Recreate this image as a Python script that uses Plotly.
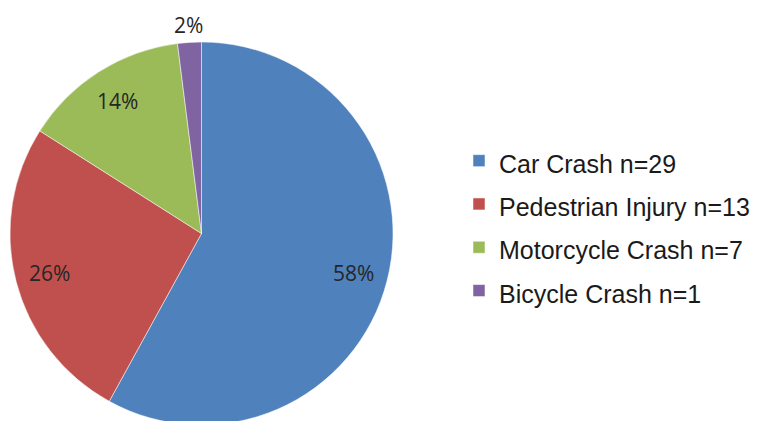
import math
import plotly.graph_objects as go

categories = ["Car Crash", "Pedestrian Injury", "Motorcycle Crash", "Bicycle Crash"]
counts = [29, 13, 7, 1]
colors = ["#4F81BD", "#C0504D", "#9BBB59", "#8064A2"]
label_radius = [0.82, 0.82, 0.82, 1.09]  # fraction of pie radius for % labels

W, H = 761, 425
# pie geometry (pixels)
cx_px = 201.5
cy_px = 233.5
R = 191.5

legend_labels = [f'<span style="font-size:25px">{c} n={n}</span>' for c, n in zip(categories, counts)]

fig = go.Figure()
fig.add_trace(go.Pie(
    labels=legend_labels,
    values=counts,
    marker=dict(colors=colors, line=dict(color="white", width=0.5)),
    sort=False,
    direction="clockwise",
    rotation=0,
    textinfo="none",
    hoverinfo="label+percent",
    domain=dict(
        x=[(cx_px - R) / W, (cx_px + R) / W],
        y=[max(0, 1 - (cy_px + R) / H), 1 - (cy_px - R) / H],
    ),
))

total = sum(counts)
cum = 0
annotations = []
for n, k in zip(counts, label_radius):
    mid = (cum + n / 2) / total * 2 * math.pi
    cum += n
    px = cx_px + k * R * math.sin(mid)
    py = cy_px - k * R * math.cos(mid)
    annotations.append(dict(
        x=px / W, y=1 - py / H, xref="paper", yref="paper",
        text=f"{round(100 * n / total)}%", showarrow=False,
        font=dict(family="Open Sans, Liberation Sans, Arial", size=21, color="#262626"),
        xanchor="center", yanchor="middle",
    ))

fig.update_layout(
    width=W, height=H,
    margin=dict(l=0, r=0, t=0, b=0, autoexpand=False),
    paper_bgcolor="white",
    plot_bgcolor="white",
    showlegend=True,
    legend=dict(
        x=459 / W, y=1 - 134 / H, xanchor="left", yanchor="top",
        font=dict(family="Liberation Sans, Arial", size=31, color="#1a1a1a"),
        bgcolor="rgba(0,0,0,0)",
        itemclick=False,
    ),
    annotations=annotations,
)

fig.write_html(
    "out.html",
    config={"displayModeBar": False},
    post_script="document.body.style.margin='0';document.body.style.overflow='hidden';",
)
